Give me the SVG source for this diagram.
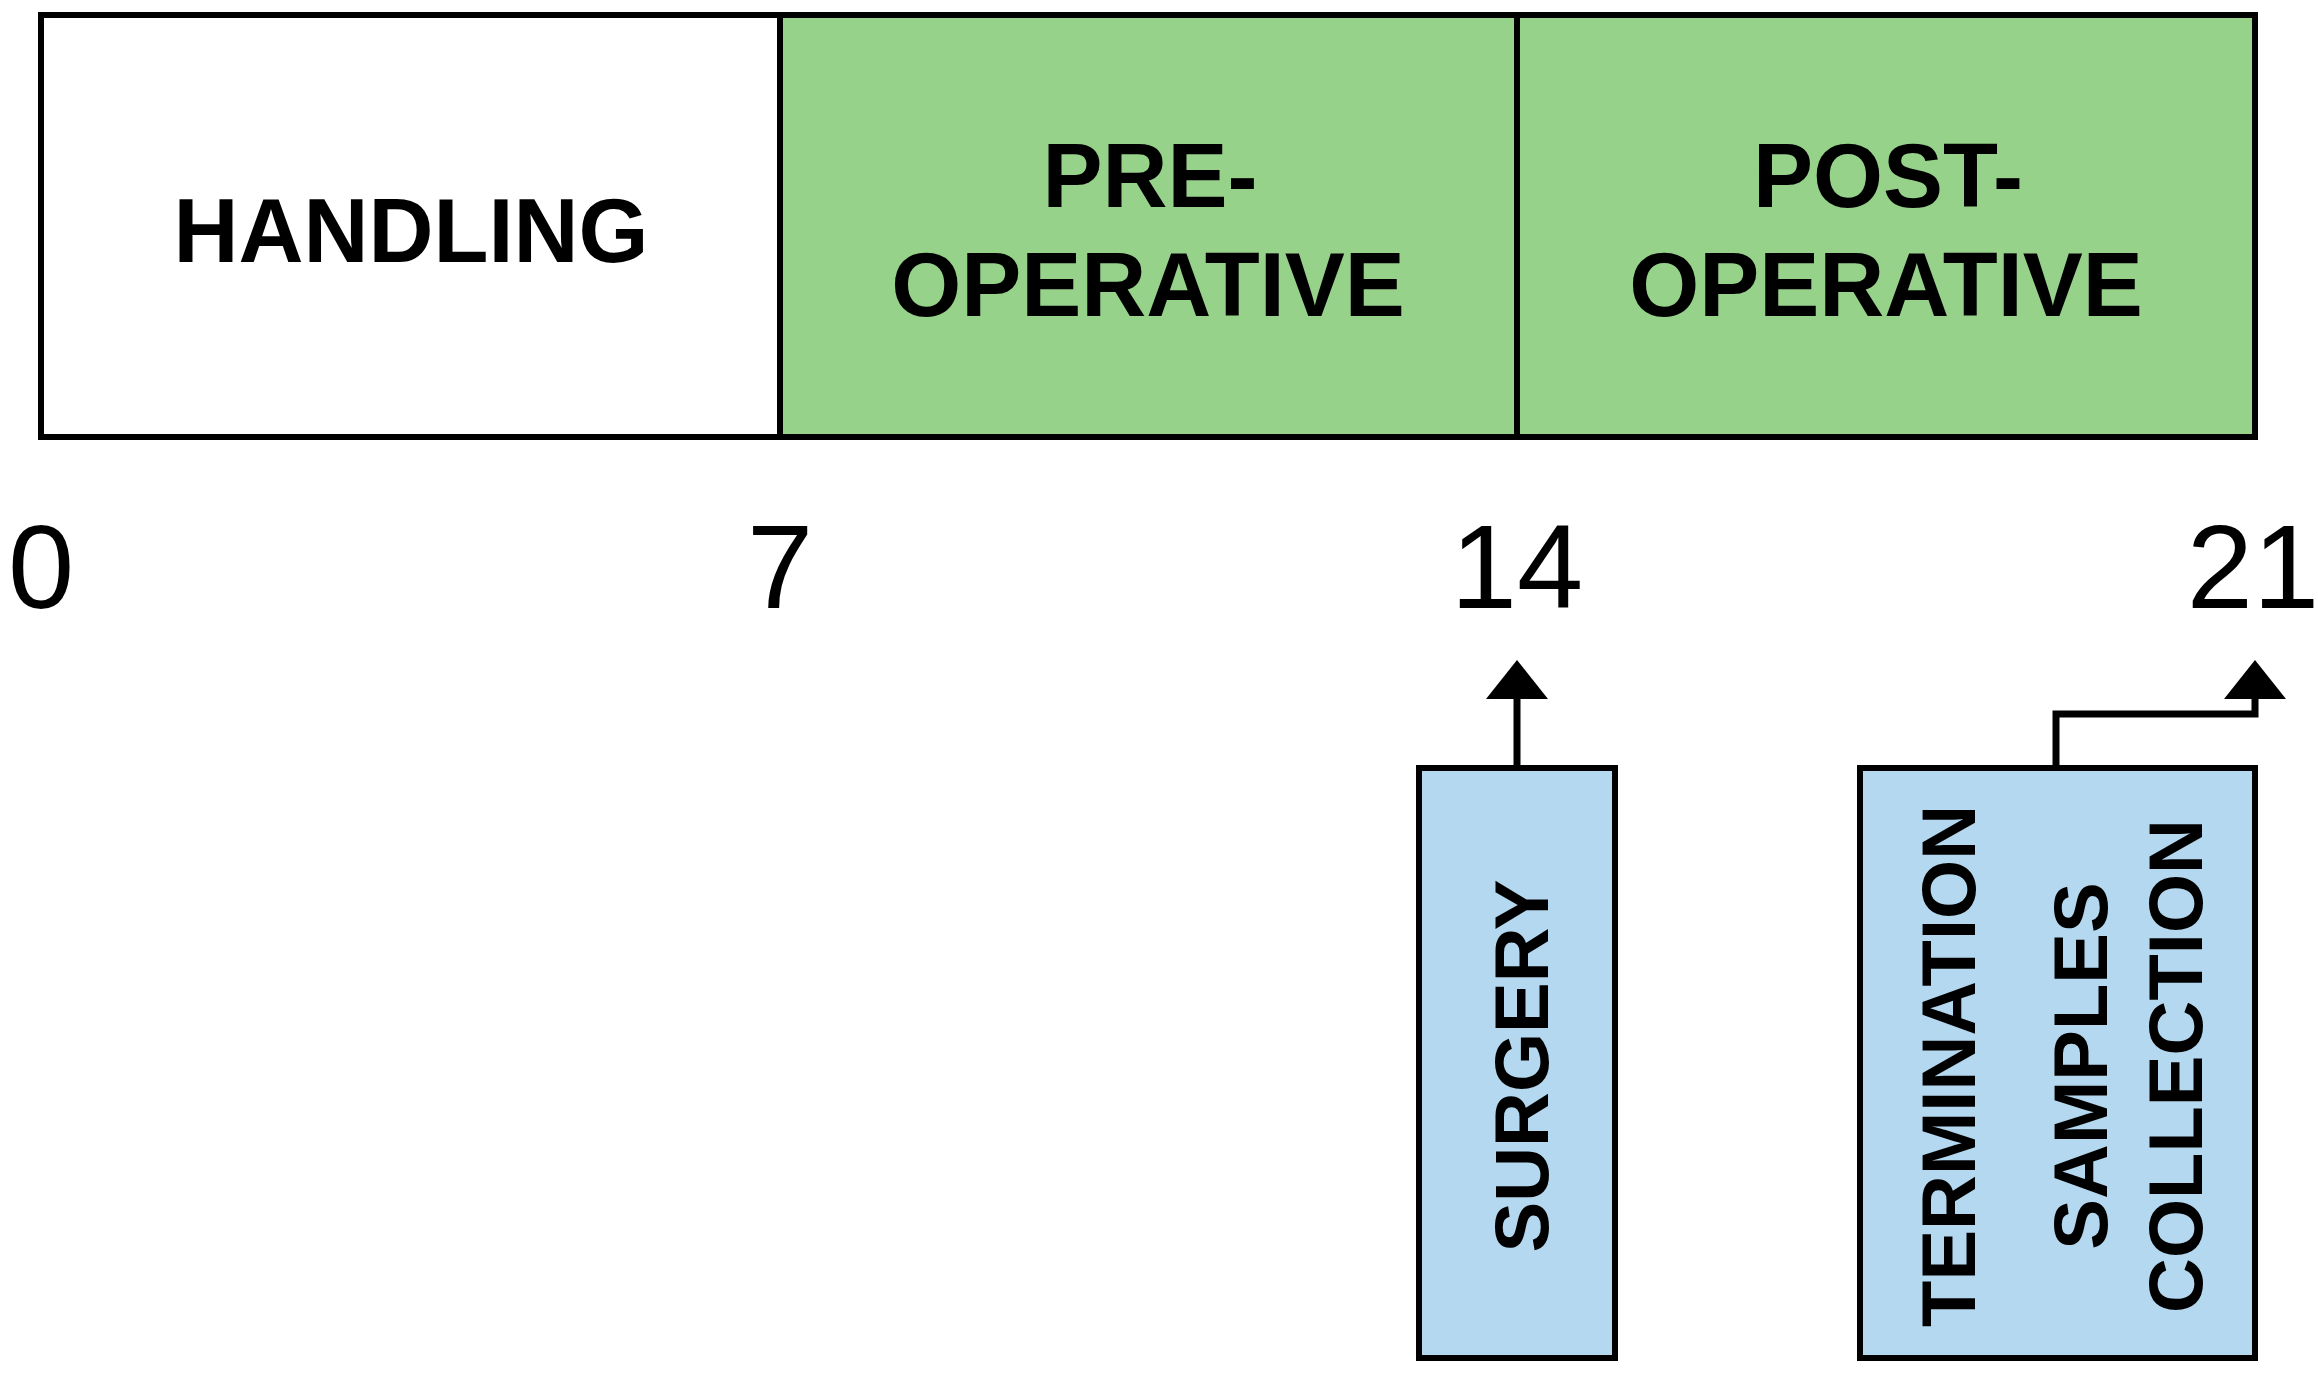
<svg xmlns="http://www.w3.org/2000/svg" width="2318" height="1381" viewBox="0 0 2318 1381">
  <defs>
    <style>
      .box { stroke: #000; stroke-width: 6; }
      .phase { fill: #97D28B; }
      .white { fill: #FFFFFF; }
      .event { fill: #B4D8EF; }
      .lbl { font-family: "Liberation Sans", Arial, sans-serif; font-weight: bold; font-size: 90px; fill: #000; text-anchor: middle; }
      .vlbl { font-family: "Liberation Sans", Arial, sans-serif; font-weight: bold; font-size: 76px; fill: #000; text-anchor: middle; }
      .num { font-family: "Liberation Sans", Arial, sans-serif; font-size: 119px; fill: #000; text-anchor: middle; }
      .conn { fill: none; stroke: #000; stroke-width: 7; marker-end: url(#arrow); }
    </style>
    <marker id="arrow" markerUnits="userSpaceOnUse" viewBox="0 0 39 62" refX="0" refY="31" markerWidth="39" markerHeight="62" orient="auto">
      <path d="M0,0 L39,31 L0,62 Z" fill="#000"/>
    </marker>
  </defs>
  <rect width="2318" height="1381" fill="#FFFFFF"/>

  <g id="handling">
    <rect class="box white" x="41" y="15" width="739" height="422"/>
    <text class="lbl" x="411" y="262">HANDLING</text>
  </g>
  <g id="pre-operative">
    <rect class="box phase" x="780" y="15" width="737" height="422"/>
    <text class="lbl" x="1150" y="207">PRE-</text>
    <text class="lbl" x="1148" y="316">OPERATIVE</text>
  </g>
  <g id="post-operative">
    <rect class="box phase" x="1517" y="15" width="738" height="422"/>
    <text class="lbl" x="1888" y="207">POST-</text>
    <text class="lbl" x="1886" y="316">OPERATIVE</text>
  </g>

  <g id="axis">
    <text class="num" x="41" y="608">0</text>
    <text class="num" x="780" y="608">7</text>
    <text class="num" x="1517" y="608">14</text>
    <text class="num" x="2253" y="608">21</text>
  </g>

  <g id="surgery">
    <rect class="box event" x="1419" y="768" width="196" height="590"/>
    <text class="vlbl" transform="translate(1548,1066) rotate(-90)">SURGERY</text>
  </g>
  <g id="termination">
    <rect class="box event" x="1860" y="768" width="395" height="590"/>
    <text class="vlbl" transform="translate(1975,1066) rotate(-90)">TERMINATION</text>
    <text class="vlbl" transform="translate(2107,1066) rotate(-90)">SAMPLES</text>
    <text class="vlbl" transform="translate(2202,1066) rotate(-90)">COLLECTION</text>
  </g>

  <g id="connectors">
    <path class="conn" d="M1517,768 V699"/>
    <path class="conn" d="M2056,768 V714 H2255 V699"/>
  </g>
</svg>
